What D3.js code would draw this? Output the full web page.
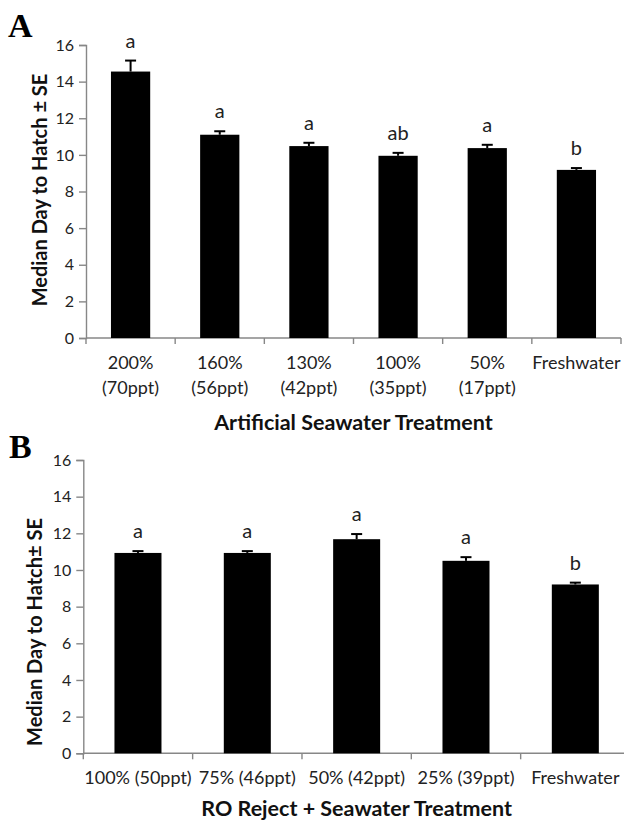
<!DOCTYPE html>
<html>
<head>
<meta charset="utf-8">
<script src="https://cdn.jsdelivr.net/npm/d3@7"></script>
<style>
  html, body { margin: 0; padding: 0; background: #fff; }
  svg { display: block; }
</style>
</head>
<body>
<svg id="fig" width="624" height="821"></svg>
<script>
// Panel A: artificial seawater treatments
const catsA = [["200%", "(70ppt)"], ["160%", "(56ppt)"], ["130%", "(42ppt)"], ["100%", "(35ppt)"], ["50%", "(17ppt)"], ["Freshwater"]];
const meanA = [14.55, 11.1, 10.48, 9.95, 10.37, 9.18];
const seA = [0.6, 0.19, 0.18, 0.16, 0.18, 0.1];
const letterA = ["a", "a", "a", "ab", "a", "b"];

// Panel B: RO reject + seawater treatments
const catsB = [["100% (50ppt)"], ["75% (46ppt)"], ["50% (42ppt)"], ["25% (39ppt)"], ["Freshwater"]];
const meanB = [10.93, 10.93, 11.68, 10.5, 9.21];
const seB = [0.1, 0.1, 0.28, 0.2, 0.1];
const letterB = ["a", "a", "a", "a", "b"];

const yTicks = [0, 2, 4, 6, 8, 10, 12, 14, 16];

const svg = d3.select("#fig");
const FONT = "Lato, 'Open Sans', sans-serif";
const AXIS_COLOR = "#878787";

function panel(cfg) {
  const g = svg.append("g");
  const idx = cfg.cats.map((d, i) => i);
  const x = d3.scaleBand().domain(idx).range([cfg.x0, cfg.x1]).padding(0);
  const y = d3.scaleLinear().domain([0, 16]).range([cfg.y0, cfg.y1]);
  const barW = x.bandwidth() * cfg.barFrac;

  // y axis
  const yAx = g.append("g")
    .attr("transform", `translate(${cfg.x0},0)`)
    .call(d3.axisLeft(y).tickValues(yTicks).tickSize(7).tickPadding(5).tickFormat(d3.format("d")));
  yAx.select(".domain").attr("stroke", AXIS_COLOR).attr("stroke-width", 1.4);
  yAx.selectAll(".tick line").attr("stroke", AXIS_COLOR).attr("stroke-width", 1.4);
  yAx.selectAll(".tick text").attr("font-size", 16).attr("fill", "#222").attr("font-family", FONT);

  // x axis: baseline with ticks at category boundaries
  const bounds = idx.map(i => x(i)).concat([cfg.x1]);
  g.append("line")
    .attr("x1", cfg.x0).attr("x2", cfg.x1)
    .attr("y1", cfg.y0).attr("y2", cfg.y0)
    .attr("stroke", AXIS_COLOR).attr("stroke-width", 1.4);
  g.selectAll(".xtick").data(bounds).join("line")
    .attr("x1", d => d).attr("x2", d => d)
    .attr("y1", cfg.y0).attr("y2", cfg.y0 + 6)
    .attr("stroke", AXIS_COLOR).attr("stroke-width", 1.4);

  // category labels
  const lab = g.selectAll(".xlab").data(cfg.cats).join("text")
    .attr("text-anchor", "middle")
    .attr("font-family", FONT).attr("font-size", 18).attr("fill", "#222");
  lab.each(function (lines, i) {
    const t = d3.select(this);
    lines.forEach((s, k) => {
      t.append("tspan")
        .attr("x", x(i) + x.bandwidth() / 2)
        .attr("y", cfg.labelY + k * 25)
        .text(s);
    });
  });

  // bars
  g.selectAll(".bar").data(cfg.mean).join("rect")
    .attr("x", (d, i) => x(i) + (x.bandwidth() - barW) / 2)
    .attr("width", barW)
    .attr("y", d => y(d))
    .attr("height", d => y(0) - y(d))
    .attr("fill", "#000");

  // upward standard-error bars with caps
  const cx = i => x(i) + x.bandwidth() / 2;
  g.selectAll(".err").data(cfg.mean).join("line")
    .attr("x1", (d, i) => cx(i)).attr("x2", (d, i) => cx(i))
    .attr("y1", d => y(d)).attr("y2", (d, i) => y(d + cfg.se[i]))
    .attr("stroke", "#000").attr("stroke-width", 2);
  g.selectAll(".cap").data(cfg.mean).join("line")
    .attr("x1", (d, i) => cx(i) - 5.5).attr("x2", (d, i) => cx(i) + 5.5)
    .attr("y1", (d, i) => y(d + cfg.se[i])).attr("y2", (d, i) => y(d + cfg.se[i]))
    .attr("stroke", "#000").attr("stroke-width", 2);

  // significance letters
  g.selectAll(".sig").data(cfg.letters).join("text")
    .attr("x", (d, i) => cx(i))
    .attr("y", (d, i) => y(cfg.mean[i] + cfg.se[i]) - 13)
    .attr("text-anchor", "middle")
    .attr("font-family", FONT).attr("font-size", 20).attr("fill", "#222")
    .text(d => d);

  // axis titles
  g.append("text")
    .attr("transform", `translate(${cfg.yTitleX},${cfg.yTitleY}) rotate(-90)`)
    .attr("text-anchor", "middle").attr("dominant-baseline", "central")
    .attr("font-family", FONT).attr("font-weight", "bold").attr("font-size", 20).attr("fill", "#111")
    .text(cfg.yTitle);
  g.append("text")
    .attr("x", (cfg.x0 + Math.min(cfg.x1, 630)) / 2)
    .attr("y", cfg.xTitleY)
    .attr("text-anchor", "middle").attr("dominant-baseline", "central")
    .attr("font-family", FONT).attr("font-weight", "bold").attr("font-size", 21.5).attr("fill", "#111")
    .text(cfg.xTitle);

  // panel letter
  g.append("text")
    .attr("x", cfg.tagX).attr("y", cfg.tagY)
    .attr("font-family", "'Liberation Serif', 'Times New Roman', serif")
    .attr("font-weight", "bold").attr("font-size", 34).attr("fill", "#000")
    .text(cfg.tag);
}

panel({
  cats: catsA, mean: meanA, se: seA, letters: letterA,
  x0: 86, x1: 621, y0: 338, y1: 45, barFrac: 0.44,
  labelY: 369, yTitle: "Median Day to Hatch \u00b1 SE", yTitleX: 38.5, yTitleY: 190,
  xTitle: "Artificial Seawater Treatment", xTitleY: 422,
  tag: "A", tagX: 8, tagY: 37
});

panel({
  cats: catsB, mean: meanB, se: seB, letters: letterB,
  x0: 83.3, x1: 630, y0: 753.3, y1: 460, barFrac: 0.43,
  labelY: 784, yTitle: "Median Day to Hatch\u00b1 SE", yTitleX: 34, yTitleY: 632,
  xTitle: "RO Reject + Seawater Treatment", xTitleY: 808,
  tag: "B", tagX: 9, tagY: 458
});
</script>
</body>
</html>
